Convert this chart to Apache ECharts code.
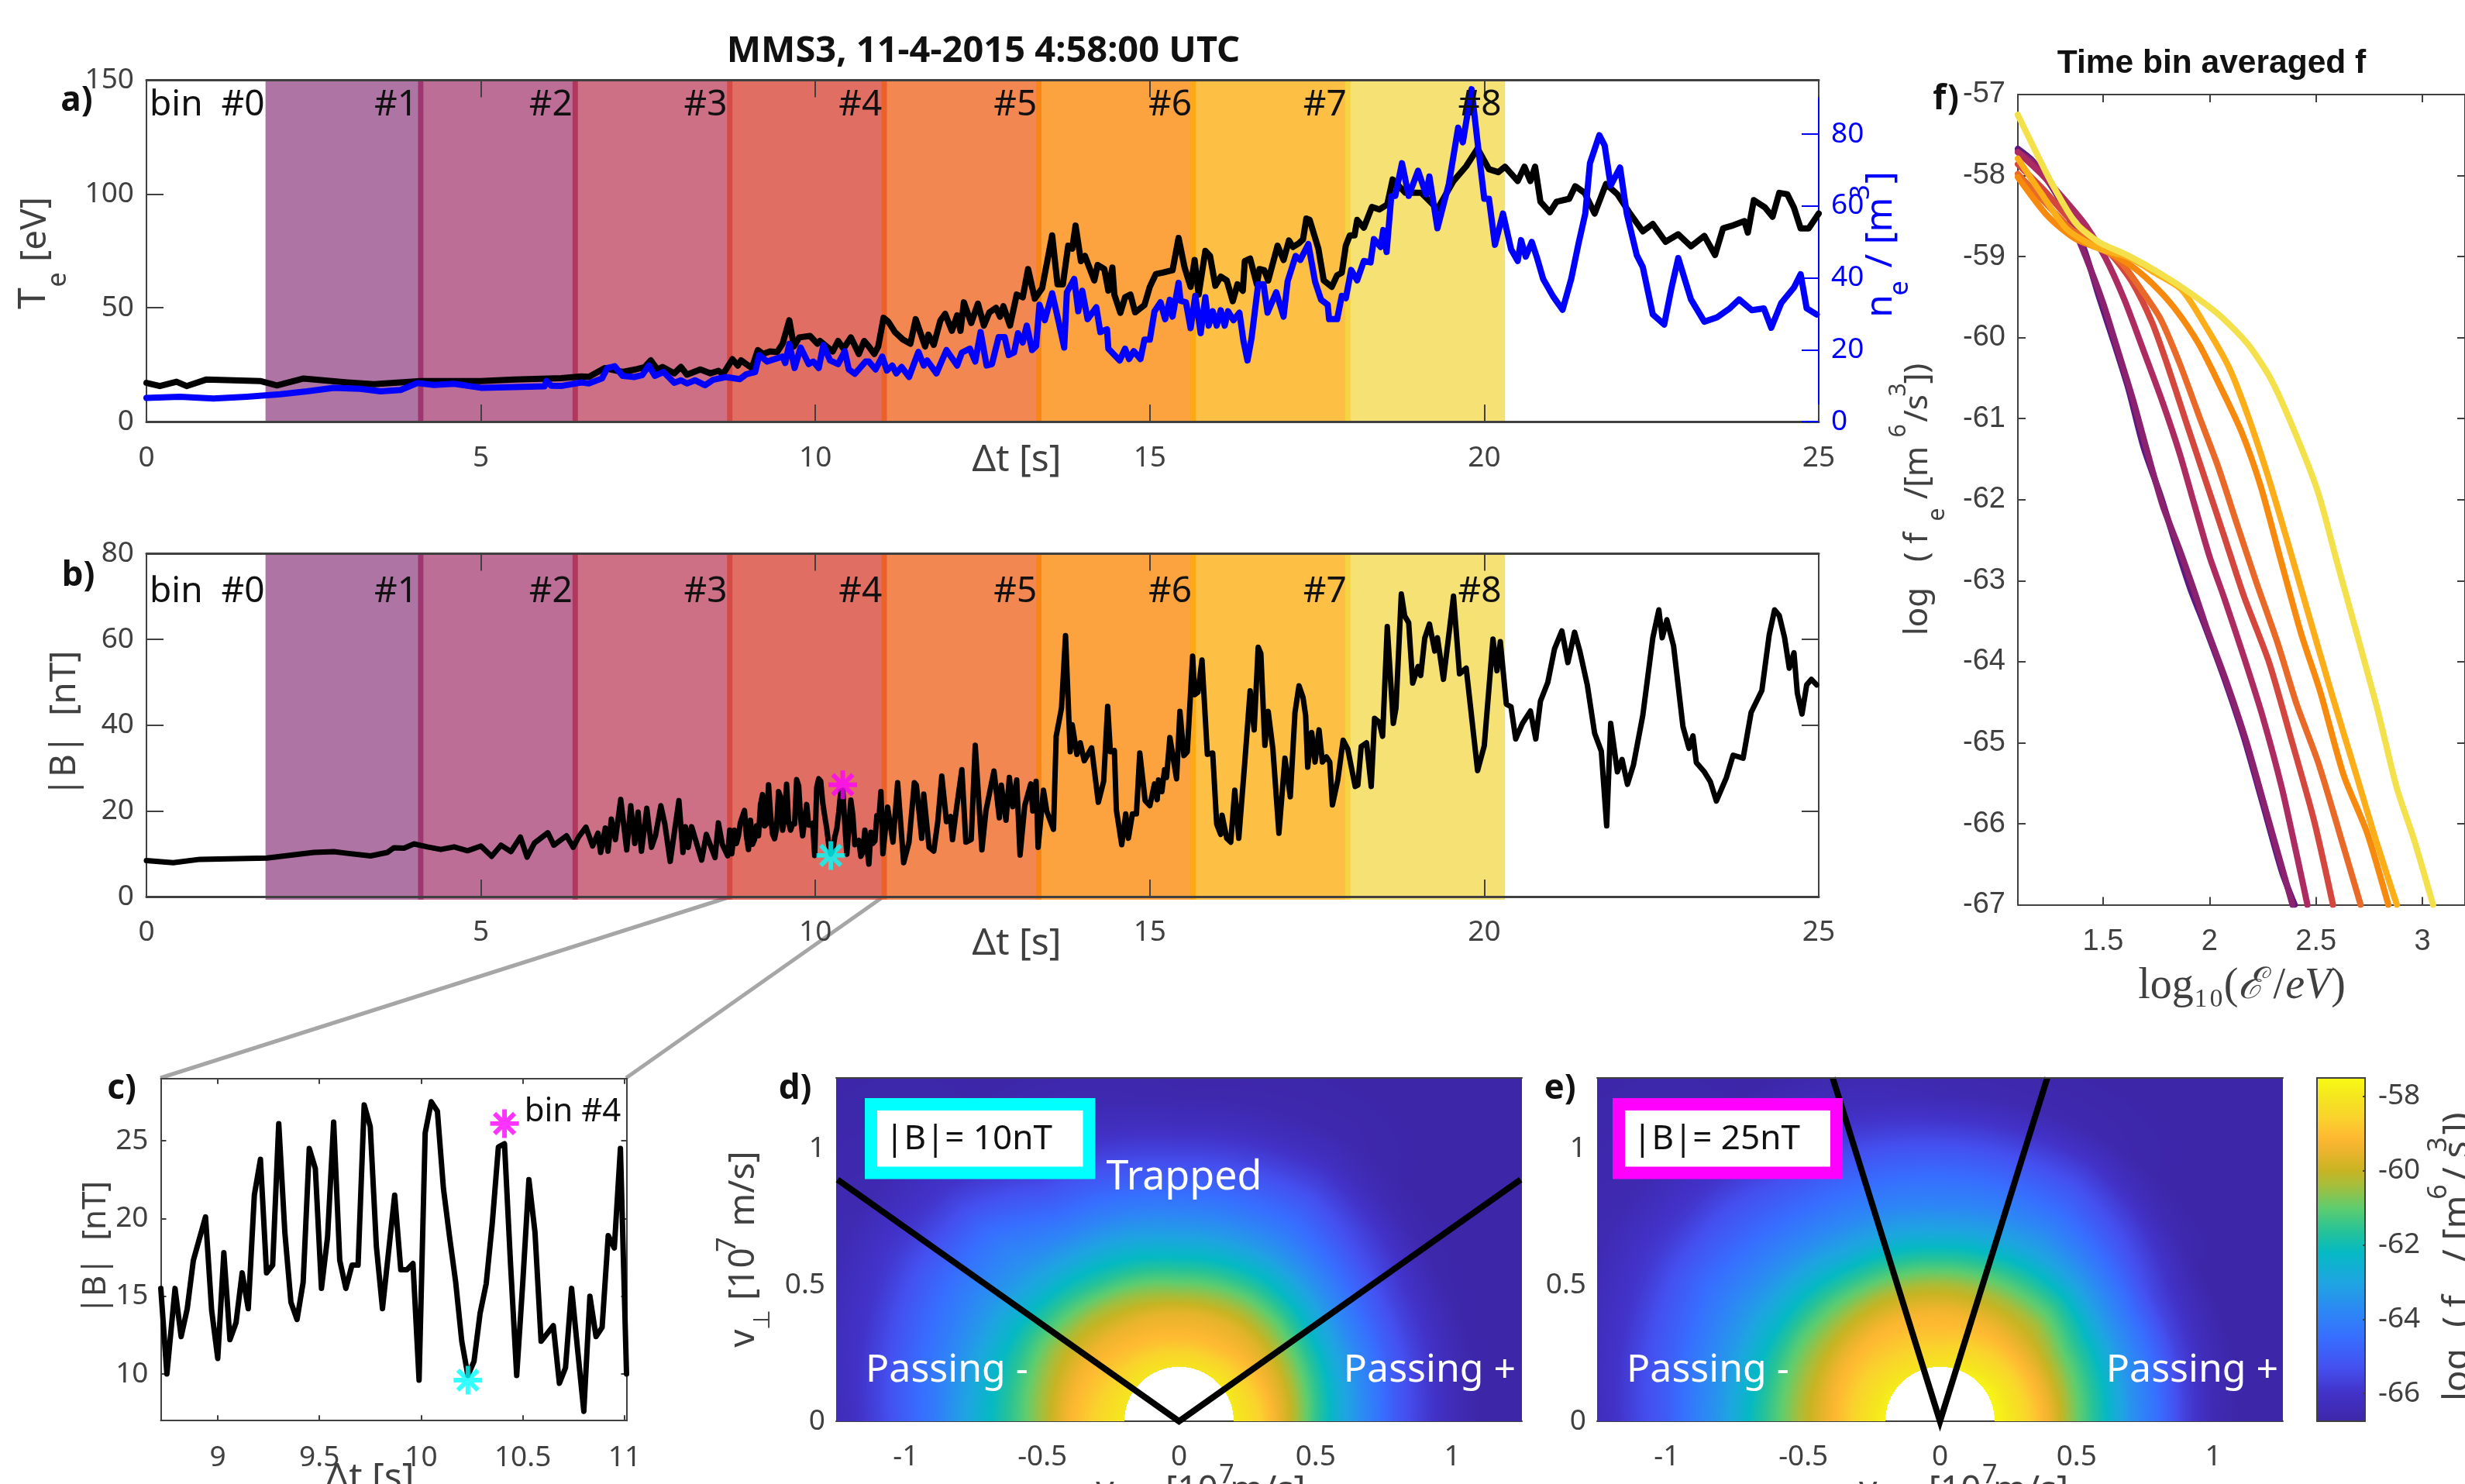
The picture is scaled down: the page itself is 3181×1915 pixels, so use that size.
<!DOCTYPE html>
<html><head><meta charset="utf-8">
<script src="https://cdn.jsdelivr.net/npm/echarts@6/dist/echarts.min.js"></script>
<style>html,body{margin:0;padding:0;background:#fff}#c{width:3181px;height:1915px}</style></head>
<body><div id="c"></div>
<script>
const teSeries=[[0,17],[0.2,15.6],[0.45,17.5],[0.6,15.6],[0.9,18.5],[1.7,17.8],[1.95,15.9],[2.35,18.9],[3.0,17.2],[3.4,16.4],[4.1,17.8],[5,17.8],[5.5,18.5],[6.2,19.1],[6.5,19.8],[6.615,19.7],[6.85,23.5],[7.12,21.8],[7.31,22.9],[7.45,24],[7.54,26.9],[7.64,22.9],[7.715,24],[7.89,21.2],[7.99,24],[8.08,20.6],[8.28,22.9],[8.43,21.2],[8.55,22.3],[8.62,20.9],[8.76,27.4],[8.84,24.6],[8.89,26.9],[9.05,23.5],[9.14,31.4],[9.22,29.7],[9.32,30.8],[9.43,30.6],[9.51,34.2],[9.61,44.5],[9.68,33],[9.76,37],[9.92,37.6],[10.03,34.2],[10.07,35.4],[10.19,32.5],[10.26,30.8],[10.34,35.4],[10.42,32],[10.53,37],[10.65,29.7],[10.73,35.4],[10.8,33],[10.88,29.7],[10.94,33],[11.02,45.6],[11.09,43.9],[11.19,39.3],[11.31,36],[11.42,34.2],[11.5,45],[11.58,38.2],[11.64,33],[11.69,38.2],[11.77,33.7],[11.87,44.5],[11.94,47.3],[12.04,39.9],[12.12,46.7],[12.17,39.9],[12.22,52.4],[12.33,43.3],[12.43,51.8],[12.52,42.2],[12.6,47.9],[12.7,50],[12.76,46.1],[12.81,50.7],[12.91,42.2],[13.01,55.8],[13.1,54.6],[13.18,67],[13.28,54],[13.39,58.6],[13.54,81.8],[13.62,60.3],[13.7,60.3],[13.78,77.3],[13.84,76],[13.89,86.1],[13.97,70.5],[14.03,72.8],[14.17,62],[14.22,68.8],[14.32,67],[14.38,57.5],[14.44,67.7],[14.47,55.8],[14.56,47.8],[14.63,54.6],[14.71,55.8],[14.78,48],[14.92,51.2],[15,59.2],[15.09,64.8],[15.19,65.4],[15.34,66.5],[15.43,80.7],[15.52,67.7],[15.61,59.2],[15.67,71],[15.73,55.8],[15.83,75],[15.9,72.8],[15.98,59.7],[16.06,63.7],[16.15,62],[16.24,52.9],[16.31,60.3],[16.39,57.5],[16.42,70.5],[16.5,71.6],[16.6,60.3],[16.64,67],[16.71,66.5],[16.77,62],[16.91,77.3],[17,71],[17.08,79.6],[17.14,76.7],[17.23,78.4],[17.29,80],[17.34,89.2],[17.39,88.6],[17.52,76],[17.6,62],[17.72,59.2],[17.8,64.3],[17.87,65.4],[17.93,77.3],[17.99,81.8],[18.06,81.8],[18.1,88.6],[18.2,85.2],[18.32,94.3],[18.43,93.2],[18.55,95.4],[18.63,106.4],[18.82,100.5],[19.06,100.5],[19.3,93.4],[19.54,105.7],[19.73,112.2],[19.9,120],[20.07,110.9],[20.21,109.6],[20.31,112],[20.5,105.7],[20.6,112],[20.69,105.7],[20.76,112],[20.84,96.6],[20.98,92],[21.08,96.6],[21.27,97.9],[21.36,103.4],[21.5,100.5],[21.65,91.4],[21.82,104.4],[21.99,99.9],[22.18,91.4],[22.37,83.6],[22.52,86.8],[22.71,79],[22.9,82.3],[23.09,77],[23.29,81.6],[23.45,73.2],[23.57,84.9],[23.72,86.2],[23.89,88.1],[23.94,83],[24.03,97.3],[24.2,94],[24.31,90],[24.41,100.5],[24.53,99.9],[24.63,94],[24.73,84.9],[24.85,84.9],[25,91.4]];
const neSeries=[[0,6.6],[0.5,6.9],[1,6.4],[1.5,6.9],[2,7.6],[2.4,8.4],[2.8,9.4],[3.2,9.1],[3.5,8.4],[3.8,8.8],[4.05,10.7],[4.3,10.2],[4.6,10.5],[5,9.4],[5.5,9.6],[5.95,9.8],[5.98,11.3],[6.05,10],[6.2,9.9],[6.5,10.9],[6.615,10.6],[6.81,12],[6.89,14.9],[7,15.4],[7.12,12.7],[7.29,12.4],[7.41,12.9],[7.51,15.6],[7.6,12.7],[7.73,13.8],[7.89,10.8],[7.99,11.5],[8.08,10.6],[8.2,11.5],[8.35,10.1],[8.47,11.6],[8.66,12.4],[8.87,11.8],[8.97,13.2],[9.1,13.8],[9.16,18.5],[9.28,16.7],[9.51,18.1],[9.55,16.3],[9.61,21.6],[9.69,14.9],[9.78,20.6],[9.9,16],[9.97,16.7],[10.05,14.9],[10.12,21.3],[10.22,17],[10.34,16],[10.44,19.6],[10.5,14.5],[10.59,13.3],[10.75,16.7],[10.8,16.7],[10.9,14.5],[11,18.1],[11.07,14.2],[11.15,15.6],[11.21,13.4],[11.29,15.2],[11.4,12.4],[11.54,19.4],[11.62,15.6],[11.67,17],[11.81,13.4],[11.96,19.9],[12.12,15.6],[12.19,19.2],[12.31,20.3],[12.39,16.7],[12.47,24.9],[12.56,15.6],[12.64,16],[12.74,23.5],[12.83,23.5],[12.89,18.5],[12.97,19.2],[13.03,24.6],[13.1,22],[13.16,26.7],[13.24,19.9],[13.3,21],[13.35,32.5],[13.43,28.2],[13.54,35.7],[13.64,27.5],[13.72,20.6],[13.76,36],[13.87,39.7],[13.93,30.7],[13.99,36.4],[14.07,28.5],[14.2,31.8],[14.26,24.9],[14.36,25.7],[14.38,20.3],[14.55,17],[14.63,20.3],[14.69,17.4],[14.76,19.6],[14.86,17.4],[14.92,22.8],[15,22.8],[15.07,30.7],[15.16,33.2],[15.23,28.5],[15.3,33.9],[15.34,29.2],[15.43,38.6],[15.46,33.6],[15.54,33.2],[15.61,26],[15.68,35],[15.76,24.6],[15.83,34.6],[15.88,26.7],[15.94,30.7],[16,26.7],[16.06,31],[16.12,26.7],[16.17,30.7],[16.25,28.2],[16.34,30.3],[16.4,22.4],[16.46,17],[16.52,23.1],[16.62,38.2],[16.7,38.2],[16.76,30.3],[16.89,36],[17,29.2],[17.06,39],[17.18,46.1],[17.25,45],[17.37,49.4],[17.47,39],[17.56,33.9],[17.66,32.5],[17.68,28.5],[17.8,28.5],[17.87,35],[17.93,34.3],[18.01,42.2],[18.1,39.3],[18.2,44.7],[18.3,44.3],[18.35,50.8],[18.45,48.6],[18.49,53.3],[18.54,47.2],[18.61,62.7],[18.67,62.8],[18.77,71.9],[18.87,62.8],[19.01,69.8],[19.13,63.2],[19.18,68.2],[19.3,53.8],[19.47,66.1],[19.61,81.8],[19.68,77.7],[19.81,92.5],[19.9,77.7],[20,62],[20.07,62],[20.16,49.2],[20.28,57.9],[20.4,48],[20.5,44.7],[20.55,50.5],[20.62,45.9],[20.71,50],[20.79,45.5],[20.88,39.7],[21.03,34.8],[21.17,31.1],[21.3,39.7],[21.41,49.6],[21.51,57.9],[21.58,71.9],[21.72,79.7],[21.8,76.8],[21.89,65.7],[22.03,70.7],[22.13,57.9],[22.28,46.3],[22.37,43],[22.52,29.8],[22.69,27],[22.8,37.3],[22.9,45.5],[23.09,34],[23.29,27.8],[23.48,29],[23.67,31.5],[23.81,34],[24,31],[24.18,31.5],[24.29,26.1],[24.44,33],[24.63,37.3],[24.73,41],[24.82,31.5],[24.97,29.8]];
const bBefore=[[0,8.4],[0.4,7.9],[0.8,8.7],[1.8,9],[2.5,10.3],[2.8,10.5],[3,10.1],[3.35,9.5],[3.6,10.3],[3.7,11.4],[3.85,11.3],[4,12.3],[4.2,11.6],[4.4,11],[4.6,11.6],[4.8,10.7],[5,11.8],[5.16,9.4],[5.3,12],[5.45,10.5],[5.59,13.9],[5.69,9.2],[5.8,12.5],[6,14.9],[6.09,12],[6.28,14.2],[6.38,11.5],[6.46,13.9],[6.57,16.2],[6.67,11.8],[6.75,14.8],[6.79,10.3],[6.86,16],[6.9,10.6],[6.95,18.1],[7.01,13.3],[7.09,22.7],[7.18,10.9],[7.24,21.2],[7.3,12.4],[7.35,19.7],[7.4,10.6],[7.48,20.6],[7.55,11.5],[7.61,14.2],[7.69,21.2],[7.75,16.9],[7.83,8.2],[7.96,22.4],[8.02,10.3],[8.06,16.3],[8.1,11.5],[8.15,16.3],[8.3,8.5],[8.37,14.5],[8.5,9.1],[8.55,17.2],[8.61,12.1],[8.69,9.5]];
const bBin4=[[8.72,15.5],[8.75,10],[8.79,15.5],[8.82,12.4],[8.85,14.2],[8.88,17.3],[8.94,20.1],[8.97,14.1],[9,11],[9.03,17.8],[9.06,12.2],[9.09,13.3],[9.12,16.5],[9.15,14.2],[9.18,21.5],[9.21,23.8],[9.24,16.5],[9.27,17],[9.3,26.1],[9.33,19.1],[9.36,14.6],[9.39,13.5],[9.42,15.9],[9.45,24.5],[9.48,23.2],[9.51,15.5],[9.54,18.8],[9.57,26.2],[9.6,17.3],[9.63,15.5],[9.66,17],[9.69,17],[9.72,27.3],[9.75,25.9],[9.78,18.2],[9.81,14.2],[9.87,21.5],[9.9,16.7],[9.93,16.7],[9.96,17.1],[9.99,9.6],[10.02,25.5],[10.05,27.5],[10.08,26.9],[10.11,21.9],[10.14,18.8],[10.17,15.9],[10.2,12.1],[10.23,9.9],[10.26,10.8],[10.29,13.9],[10.32,15.8],[10.35,19.7],[10.38,24.6],[10.41,24.8],[10.44,17],[10.47,9.9],[10.5,15.9],[10.53,22.5],[10.56,19.1],[10.59,12.1],[10.62,12.6],[10.65,13.1],[10.68,9.4],[10.71,10.4],[10.74,15.5],[10.77,11.5],[10.8,7.6],[10.83,15],[10.86,12.4],[10.89,13],[10.92,18.9],[10.95,18.1],[10.98,24.5],[11.01,10]];
const bAfter=[[11.08,20.9],[11.16,12.7],[11.23,26.6],[11.32,7.9],[11.4,12.7],[11.48,26.6],[11.51,26],[11.59,13.6],[11.62,23.9],[11.7,11.5],[11.77,10.6],[11.83,17.5],[11.89,28.1],[11.96,17.5],[12.02,18.7],[12.05,13.3],[12.11,20.6],[12.19,29.6],[12.25,12.7],[12.33,13.3],[12.39,35.3],[12.49,10.9],[12.55,20],[12.67,29.3],[12.75,18.4],[12.78,26],[12.85,17.8],[12.9,27.8],[12.95,21],[13.01,27.2],[13.06,9.7],[13.13,21.2],[13.22,26.3],[13.25,20],[13.3,26.9],[13.33,11.5],[13.41,24.8],[13.46,19.9],[13.56,15.7],[13.6,37.4],[13.68,44],[13.74,60.9],[13.81,33.8],[13.84,40.1],[13.91,33.2],[13.96,35.9],[14.02,31.7],[14.13,34.7],[14.23,22],[14.31,26.9],[14.37,44.4],[14.41,33.8],[14.47,34.1],[14.5,20.2],[14.58,12.1],[14.64,19.3],[14.68,13.6],[14.74,19.3],[14.8,19.3],[14.85,33.5],[14.93,22.4],[15,21.2],[15.07,26.3],[15.11,22.6],[15.13,27.2],[15.18,24.5],[15.22,29.6],[15.25,27.8],[15.3,37.1],[15.4,27.5],[15.45,43.2],[15.51,32.9],[15.56,33.8],[15.64,56.1],[15.67,47.1],[15.72,47.7],[15.78,55.2],[15.86,33.2],[15.94,33.5],[16,16.9],[16.06,14.5],[16.08,19],[16.15,13.6],[16.21,12.7],[16.27,24.8],[16.33,13.6],[16.42,31.4],[16.5,48],[16.56,38.9],[16.62,58.2],[16.66,56.7],[16.72,35.3],[16.77,43.2],[16.84,34.4],[16.93,14.8],[17.02,32.3],[17.1,23.3],[17.17,42.9],[17.23,49.2],[17.29,46.5],[17.33,42.2],[17.36,30.2],[17.42,38.3],[17.47,31.4],[17.53,38.9],[17.58,31.4],[17.64,32.6],[17.69,31.4],[17.73,21.4],[17.81,27.2],[17.89,36.5],[17.96,34.4],[18.07,25.7],[18.11,26],[18.16,35],[18.24,35.9],[18.31,25.7],[18.36,41.6],[18.43,40.7],[18.48,37.4],[18.55,63],[18.64,40.4],[18.68,44],[18.76,70.6],[18.81,65.5],[18.87,63.9],[18.93,49.8],[19.01,53.7],[19.05,51.6],[19.11,60.3],[19.18,63.6],[19.26,57.3],[19.3,60.4],[19.39,50.7],[19.54,70.1],[19.63,52],[19.73,53.3],[19.9,29.4],[20,35.2],[20.13,60.1],[20.19,52.7],[20.24,59.5],[20.33,44.9],[20.4,44.3],[20.47,36.8],[20.57,40.4],[20.69,43.3],[20.77,36.8],[20.84,45.6],[20.95,50],[21.05,57.8],[21.16,62],[21.25,54.6],[21.35,61.7],[21.43,57.2],[21.54,49.4],[21.65,38.1],[21.75,33.9],[21.83,16.5],[21.89,40.4],[21.99,29.1],[22.06,32],[22.14,26.2],[22.23,30.7],[22.37,42.3],[22.52,60.4],[22.61,66.9],[22.66,60.4],[22.73,64.6],[22.83,58.5],[22.97,39.7],[23.06,34.6],[23.12,37.5],[23.17,31.3],[23.29,29.1],[23.38,26.8],[23.47,22.3],[23.62,27.8],[23.72,33],[23.87,32.3],[23.99,43],[24.15,48.1],[24.26,61.1],[24.34,66.9],[24.41,65.6],[24.49,60.4],[24.56,53.3],[24.63,56.9],[24.68,47.5],[24.75,42.6],[24.82,49.4],[24.89,50.7],[24.97,49.4]];
const starHigh=[[10.41,26.1]];
const starLow=[[10.23,9.6]];
// ---- time bins ----
const binStart=[1.78,4.06,6.37,8.68,10.99,13.3,15.61,17.92];
const binEnd=[4.14,6.45,8.76,11.07,13.38,15.69,18.0,20.31];
const binColors=['rgba(120,23,103,.6)','rgba(145,13,80,.6)','rgba(172,17,53,.6)','rgba(214,62,46,.75)','rgba(238,95,24,.75)','rgba(251,132,0,.75)','rgba(254,171,6,.75)','rgba(243,216,70,.75)'];
const binNames=['#1','#2','#3','#4','#5','#6','#7','#8'];
// ---- panel f : [log10(E/eV), log f] ----
const f0=[[1.10,-57.67],[1.17,-57.82],[1.26,-58.14],[1.33,-58.46],[1.41,-58.9],[1.48,-59.49],[1.55,-60.05],[1.62,-60.64],[1.69,-61.35],[1.77,-61.95],[1.84,-62.54],[1.91,-63.1],[1.98,-63.57],[2.07,-64.21],[2.16,-64.92],[2.25,-65.75],[2.34,-66.59],[2.40,-67]];
const f1=[[1.10,-57.71],[1.19,-57.88],[1.28,-58.22],[1.35,-58.58],[1.42,-59.01],[1.50,-59.57],[1.57,-60.16],[1.64,-60.76],[1.71,-61.43],[1.78,-62.07],[1.86,-62.62],[1.93,-63.14],[1.99,-63.61],[2.08,-64.25],[2.17,-64.96],[2.26,-65.79],[2.35,-66.63],[2.39,-67]];
const f2=[[1.10,-57.71],[1.21,-57.98],[1.32,-58.30],[1.42,-58.62],[1.51,-59.01],[1.60,-59.53],[1.69,-60.16],[1.78,-60.80],[1.86,-61.43],[1.93,-62.07],[2.0,-62.70],[2.07,-63.22],[2.16,-63.93],[2.25,-64.68],[2.34,-65.56],[2.42,-66.51],[2.46,-67]];
const f3=[[1.10,-57.86],[1.23,-58.2],[1.33,-58.5],[1.44,-58.74],[1.55,-59.01],[1.64,-59.33],[1.73,-59.81],[1.80,-60.32],[1.89,-61.04],[1.98,-61.75],[2.07,-62.46],[2.16,-63.18],[2.28,-64.01],[2.38,-64.92],[2.49,-65.95],[2.58,-67]];
const f4=[[1.10,-57.98],[1.23,-58.34],[1.35,-58.66],[1.48,-58.86],[1.59,-59.09],[1.68,-59.41],[1.77,-59.77],[1.86,-60.32],[1.95,-60.96],[2.04,-61.59],[2.13,-62.31],[2.22,-63.02],[2.32,-63.77],[2.41,-64.53],[2.51,-65.24],[2.61,-66.11],[2.71,-67]];
const f5=[[1.10,-58.02],[1.24,-58.5],[1.37,-58.78],[1.51,-58.93],[1.62,-59.09],[1.73,-59.33],[1.84,-59.65],[1.95,-60.08],[2.05,-60.6],[2.15,-61.16],[2.24,-61.83],[2.33,-62.7],[2.43,-63.65],[2.52,-64.37],[2.63,-65.4],[2.74,-66.11],[2.84,-67]];
const f6=[[1.10,-57.79],[1.21,-58.22],[1.33,-58.66],[1.48,-58.9],[1.62,-59.01],[1.75,-59.21],[1.87,-59.41],[1.98,-59.85],[2.09,-60.36],[2.18,-60.96],[2.27,-61.67],[2.36,-62.46],[2.47,-63.46],[2.58,-64.45],[2.69,-65.4],[2.78,-66.19],[2.88,-67]];
const f7=[[1.10,-57.25],[1.17,-57.63],[1.26,-58.1],[1.37,-58.58],[1.48,-58.82],[1.62,-58.99],[1.77,-59.21],[1.91,-59.45],[2.05,-59.73],[2.18,-60.08],[2.29,-60.52],[2.40,-61.16],[2.51,-61.91],[2.60,-62.78],[2.70,-63.73],[2.79,-64.6],[2.88,-65.56],[2.96,-66.19],[3.05,-67]];
const fCurves=[f0,f1,f2,f3,f4,f5,f6,f7];
const fColors=['#5c1a80','#8a2270','#ac2c62','#d3473f','#e96a28','#f78a0c','#fbae17','#f3e04a'];
// ---- panels d, e : log f read by colour at (speed, pitch angle) ----
const speedKnots=[0.2,0.3,0.4,0.5,0.6,0.7,0.8,0.9,1.0,1.1,1.2,1.4,1.8];
const angleKnots=[0,30,45,60,90,120,135,150,180];
const fD=[
[-57.9,-58.6,-59.9,-61.5,-62.9,-64.0,-65.1,-65.8,-66.4,-66.75,-66.75,-66.75,-66.75],
[-57.9,-58.8,-59.8,-61.2,-62.6,-63.8,-64.8,-65.6,-66.2,-66.7,-66.75,-66.75,-66.75],
[-57.9,-58.9,-59.7,-60.9,-62.3,-63.5,-64.5,-65.3,-65.9,-66.5,-66.75,-66.75,-66.75],
[-58.0,-59.0,-59.6,-60.8,-62.1,-63.3,-64.2,-64.9,-65.6,-66.2,-66.6,-66.75,-66.75],
[-58.1,-59.0,-59.6,-60.9,-62.2,-63.3,-64.2,-65.0,-65.7,-66.3,-66.65,-66.75,-66.75],
[-58.0,-58.9,-59.5,-60.5,-61.8,-62.9,-63.9,-64.7,-65.4,-66.0,-66.4,-66.75,-66.75],
[-58.0,-58.8,-59.4,-60.3,-61.5,-62.7,-63.5,-64.0,-64.6,-65.3,-65.9,-66.6,-66.75],
[-58.0,-58.7,-59.3,-60.2,-61.3,-62.4,-63.3,-64.0,-64.6,-65.2,-65.8,-66.5,-66.75],
[-57.9,-58.5,-59.2,-60.4,-61.4,-62.3,-63.2,-64.2,-64.9,-65.6,-66.2,-66.75,-66.75]];
const fE=[
[-57.6,-58.3,-59.4,-60.9,-62.1,-63.5,-64.5,-65.7,-66.5,-66.75,-66.75,-66.75,-66.75],
[-57.6,-58.4,-59.5,-60.8,-62.0,-63.3,-64.4,-65.5,-66.2,-66.75,-66.75,-66.75,-66.75],
[-57.7,-58.5,-59.5,-60.4,-61.6,-63.0,-64.1,-65.0,-65.7,-66.4,-66.75,-66.75,-66.75],
[-57.8,-58.6,-59.4,-60.4,-61.6,-62.9,-63.8,-64.6,-65.3,-66.0,-66.6,-66.75,-66.75],
[-58.0,-58.8,-59.3,-60.3,-61.7,-63.0,-63.9,-64.5,-65.2,-65.9,-66.5,-66.75,-66.75],
[-58.0,-58.7,-59.2,-60.2,-61.5,-62.8,-63.7,-64.4,-65.0,-65.6,-66.1,-66.75,-66.75],
[-57.9,-58.6,-59.2,-60.2,-61.3,-62.5,-63.5,-64.2,-64.8,-65.3,-65.9,-66.6,-66.75],
[-57.8,-58.5,-59.2,-60.2,-61.2,-62.4,-63.3,-64.0,-64.6,-65.2,-65.8,-66.5,-66.75],
[-57.7,-58.4,-59.3,-60.2,-61.2,-62.2,-63.3,-64.1,-65.0,-65.5,-66.1,-66.75,-66.75]];
const coneD=[[-1.25,0.888],[0,0],[1.25,0.888]];
const coneE=[[-0.393,1.263],[0,0],[0.393,1.263]];
// ---- colour bar ----
const cbValues=[-66.75,-66,-65.3,-64.5,-63.8,-63,-62.2,-61.6,-61,-60.4,-60,-59.4,-59.1,-58.6,-58,-57.5];
const cbColors=[[61,38,168],[66,50,200],[68,80,240],[55,110,255],[45,135,245],[30,165,225],[5,185,195],[40,195,150],[95,205,110],[165,190,60],[200,180,35],[240,180,45],[254,185,50],[250,210,45],[245,230,30],[249,250,20]];
// ---- tick labels ----
const ticksNe=[0,20,40,60,80], ticksC_x=[9,9.5,10,10.5,11], ticksC_y=[10,15,20,25];
const ticksV=[-1,-0.5,0,0.5,1], ticksVp=[0,0.5,1], ticksCb=[-66,-64,-62,-60,-58], ticksFx=[1.5,2,2.5,3];

const MAIN='"Noto Sans"', ARIAL='"Liberation Sans"', GREY='#404040';
function rgbAt(v){
  if(v<=cbValues[0])return cbColors[0];
  for(let i=1;i<cbValues.length;i++){
    if(v<=cbValues[i]){const k=(v-cbValues[i-1])/(cbValues[i]-cbValues[i-1]);
      return cbColors[i].map((c,j)=>cbColors[i-1][j]+k*(c-cbColors[i-1][j]));}
  }
  return cbColors[cbColors.length-1];
}
function locate(a,v){let i=0;while(i<a.length-2&&v>a[i+1])i++;return [i,Math.max(0,Math.min(1,(v-a[i])/(a[i+1]-a[i])))];}
function lookup(tab,r,th){const [i,u]=locate(angleKnots,th),[j,w]=locate(speedKnots,r);
  return (1-u)*((1-w)*tab[i][j]+w*tab[i][j+1])+u*((1-w)*tab[i+1][j]+w*tab[i+1][j+1]);}
function shade(tab,ext,W,H){ // paints the read table on the panel as the original's interpolated shading
  const cv=document.createElement('canvas');cv.width=W;cv.height=H;const g=cv.getContext('2d');const im=g.createImageData(W,H);
  for(let py=0;py<H;py++)for(let px=0;px<W;px++){
    const x=ext[0]+(px+.5)/W*(ext[2]-ext[0]),y=ext[3]-(py+.5)/H*(ext[3]-ext[1]);
    const r=Math.hypot(x,y),k=(py*W+px)*4;
    if(r<0.2){im.data[k+3]=0;continue;}
    const c=rgbAt(lookup(tab,r,Math.atan2(y,x)*180/Math.PI));
    im.data[k]=c[0];im.data[k+1]=c[1];im.data[k+2]=c[2];im.data[k+3]=255;
  }
  g.putImageData(im,0,0);return cv;
}
const grids=[
 {left:189,top:103.5,width:2158,height:440.5},
 {left:189,top:714.6,width:2158,height:442.4},
 {left:207.5,top:1391.7,width:601,height:441.5},
 {left:1079,top:1390.6,width:885,height:443.4},
 {left:2061,top:1390.6,width:885,height:443.4},
 {left:2990,top:1391,width:62,height:443},
 {left:2604,top:122,width:580,height:1045.6}];
const xAxis=[],yAxis=[],series=[];
const LS=(c,w)=>({color:c,width:w});
function ax(list,o){
  const a={type:'value',gridIndex:o.g,position:o.pos,min:o.min,max:o.max,z:o.z==null?2:o.z,splitLine:{show:false},animation:false,
   axisLine:{show:o.line!==false,onZero:false,lineStyle:LS(o.color||GREY,o.lw||2)},
   axisTick:{show:!!o.tick,inside:true,length:o.tick||0,lineStyle:LS(o.color||GREY,2)},
   axisLabel:{show:!!o.label,margin:o.margin||16,color:o.color||GREY,fontFamily:o.font||MAIN,fontSize:o.size||37}};
  if(list===yAxis)a.axisLabel.padding=[o.font===ARIAL?13:8,0,0,0];
  if(o.interval)a.interval=o.interval;
  if(o.custom){a.axisTick.customValues=o.custom;a.axisLabel.customValues=o.custom;}
  list.push(a);return list.length-1;
}
// panel a
const xa=ax(xAxis,{g:0,pos:'bottom',min:0,max:25,interval:5,tick:22,label:true,margin:29,lw:3});
ax(xAxis,{g:0,pos:'top',min:0,max:25,interval:5,tick:22,lw:3});
const yaT=ax(yAxis,{g:0,pos:'left',min:0,max:150,interval:50,tick:22,label:true});
const yaN=ax(yAxis,{g:0,pos:'right',min:0,max:95,custom:ticksNe,tick:22,label:true,color:'#0000ff'});
// panel b
const xb=ax(xAxis,{g:1,pos:'bottom',min:0,max:25,interval:5,tick:22,label:true,margin:28,lw:3});
ax(xAxis,{g:1,pos:'top',min:0,max:25,interval:5,tick:22,lw:3});
const yb=ax(yAxis,{g:1,pos:'left',min:0,max:80,interval:20,tick:22,label:true});
ax(yAxis,{g:1,pos:'right',min:0,max:80,interval:20,tick:22});
// panel c
const xc=ax(xAxis,{g:2,pos:'bottom',min:8.72,max:11.01,custom:ticksC_x,tick:7,label:true,margin:30});
ax(xAxis,{g:2,pos:'top',min:8.72,max:11.01,custom:ticksC_x,tick:7});
const yc=ax(yAxis,{g:2,pos:'left',min:7,max:29,custom:ticksC_y,tick:7,label:true});
ax(yAxis,{g:2,pos:'right',min:7,max:29,custom:ticksC_y,tick:7});
// panels d, e (image covers the axis lines, as in the figure)
const heatExt=[-1.255,0,1.255,1.263];
const pv={};
[[3,'d'],[4,'e']].forEach(([g,n])=>{
  pv[n]={x:ax(xAxis,{g,pos:'bottom',min:heatExt[0],max:heatExt[2],custom:ticksV,label:true,margin:28,z:0}),
         y:ax(yAxis,{g,pos:'left',min:0,max:heatExt[3],custom:ticksVp,label:true,margin:14,line:false,z:0})};
  ax(xAxis,{g,pos:'top',min:heatExt[0],max:heatExt[2],custom:ticksV,z:5});
});
// colour bar
const xcb=ax(xAxis,{g:5,pos:'bottom',min:0,max:1,custom:[],z:5});
ax(xAxis,{g:5,pos:'top',min:0,max:1,custom:[],z:5});
const ycb=ax(yAxis,{g:5,pos:'right',min:-66.75,max:-57.5,custom:ticksCb,tick:3,label:true,margin:17,z:5});
ax(yAxis,{g:5,pos:'left',min:-66.75,max:-57.5,custom:[],z:5});
// panel f
const xf=ax(xAxis,{g:6,pos:'bottom',min:1.1,max:3.2,custom:ticksFx,tick:10,label:true,margin:29,font:ARIAL,size:38});
ax(xAxis,{g:6,pos:'top',min:1.1,max:3.2,custom:ticksFx,tick:10});
const yf=ax(yAxis,{g:6,pos:'left',min:-67,max:-57,interval:1,tick:10,label:true,margin:16,font:ARIAL,size:38});
ax(yAxis,{g:6,pos:'right',min:-67,max:-57,interval:1,tick:10});

const bandData=binStart.map((s,i)=>[s,binEnd[i],i]);
function bands(xi,yi,padTop,padBot){
  series.push({type:'custom',xAxisIndex:xi,yAxisIndex:yi,z:1,silent:true,animation:false,data:bandData,encode:{x:[0,1]},
   renderItem(p,api){
     const cs=p.coordSys,a=api.coord([api.value(0),0])[0],b=api.coord([api.value(1),0])[0];
     return {type:'rect',shape:{x:a,y:cs.y-padTop,width:b-a,height:cs.height+padTop+padBot},style:{fill:binColors[api.value(2)]}};
   }});
}
function line(xi,yi,data,color,w,extra){
  series.push(Object.assign({type:'line',xAxisIndex:xi,yAxisIndex:yi,data,symbol:'none',z:3,animation:false,silent:true,
    lineStyle:{color,width:w,join:'round',cap:'round'}},extra||{}));
}
const STAR='path://M42 0L58 0L58 100L42 100ZM0 42L100 42L100 58L0 58ZM9.3 20.7L20.7 9.3L90.7 79.3L79.3 90.7ZM79.3 9.3L90.7 20.7L20.7 90.7L9.3 79.3Z';
function star(xi,yi,data,color){
  series.push({type:'scatter',xAxisIndex:xi,yAxisIndex:yi,data,symbol:STAR,symbolSize:37,z:4,animation:false,silent:true,itemStyle:{color}});
}
bands(xa,yaT,0,0);
line(xa,yaT,teSeries,'#000',8);
line(xa,yaN,neSeries,'#0000ff',8);
bands(xb,yb,1,4);
const bSeries=[...bBefore,...bBin4,...bAfter];
line(xb,yb,bSeries,'#000',7);
star(xb,yb,starHigh,'#ff00ff');star(xb,yb,starLow,'#00ffff');
line(xc,yc,bBin4,'#000',7);
star(xc,yc,starHigh,'#ff00ff');star(xc,yc,starLow,'#00ffff');
function heat(n,tab){
  series.push({type:'custom',xAxisIndex:pv[n].x,yAxisIndex:pv[n].y,z:2,silent:true,animation:false,clip:true,data:[heatExt],encode:{x:[0,2],y:[1,3]},
   renderItem(p,api){
     const a=api.coord([api.value(0),api.value(3)]),b=api.coord([api.value(2),api.value(1)]);
     const w=Math.round(b[0]-a[0]),h=Math.round(b[1]-a[1]);
     return {type:'image',style:{image:shade(tab,heatExt,w,h),x:a[0],y:a[1],width:b[0]-a[0],height:b[1]-a[1]}};
   }});
}
heat('d',fD);heat('e',fE);
function cone(n,d){series.push({type:'line',xAxisIndex:pv[n].x,yAxisIndex:pv[n].y,data:d,symbol:'none',z:4,clip:false,animation:false,silent:true,lineStyle:{color:'#000',width:8,join:'miter',cap:'butt'}});}
cone('d',coneD);cone('e',coneE);
series.push({type:'custom',xAxisIndex:xcb,yAxisIndex:ycb,z:1,silent:true,animation:false,data:[[0,-66.75,1,-57.5]],encode:{x:[0,2],y:[1,3]},
  renderItem(p,api){
    const a=api.coord([api.value(0),api.value(3)]),b=api.coord([api.value(2),api.value(1)]);
    const span=cbValues[cbValues.length-1]-cbValues[0];
    const stops=cbValues.map((v,i)=>({offset:(cbValues[cbValues.length-1]-v)/span,color:'rgb('+cbColors[i].join(',')+')'})).reverse();
    return {type:'rect',shape:{x:a[0],y:a[1],width:b[0]-a[0],height:b[1]-a[1]},style:{fill:new echarts.graphic.LinearGradient(0,0,0,1,stops)}};
  }});
fCurves.forEach((d,i)=>line(xf,yf,d,fColors[i],8,{smooth:0.25}));

// ---- text and annotation ----
function T(x,y,text,o){o=o||{};return {type:'text',x,y,rotation:o.rot?Math.PI/2:0,z:100,silent:true,
  style:{text,fontFamily:o.font||MAIN,fontSize:o.size||46,fontWeight:o.bold?'bold':'normal',fill:o.color||'#111',align:o.align||'center',verticalAlign:'middle',rich:o.rich}};}
const g=[];
g.push({type:'line',z:0,silent:true,shape:{x1:943,y1:1157,x2:207,y2:1391},style:{stroke:'#a6a6a6',lineWidth:5}});
g.push({type:'line',z:0,silent:true,shape:{x1:1140,y1:1157,x2:808,y2:1391},style:{stroke:'#a6a6a6',lineWidth:5}});
g.push(T(1269,67,'MMS3, 11-4-2015 4:58:00 UTC',{bold:true,size:47}));
g.push(T(2854,82,'Time bin averaged f',{bold:true,size:42.5,font:ARIAL}));
[['a)',99,130],['b)',101,743],['c)',157,1405],['d)',1026,1405],['e)',2013,1405],['f)',2511,128]].forEach(l=>g.push(T(l[1],l[2],l[0],{bold:true,size:44})));
[136,764].forEach(y=>{
  g.push(T(341.6,y,'bin  #0',{align:'right'}));
  binNames.forEach((s,i)=>g.push(T(539+199.8*i,y,s,{align:'right'})));
});
g.push(T(1312,594,'\u0394t [s]',{size:48,color:GREY}),T(1312,1218,'\u0394t [s]',{size:48,color:GREY}),T(477,1908,'\u0394t [s]',{size:48,color:GREY}));
const rot=(x,y,t,s,c)=>T(x,y,t,{rot:true,size:s,color:c||GREY});
// a y labels
g.push(rot(44,385,'T',50),rot(75,361,'e',34),rot(46,296,'[eV]',46));
g.push(rot(2427,395,'n',48,'#0000ff'),rot(2452,372,'e',34,'#0000ff'),rot(2427,300,'/ [m',48,'#0000ff'),rot(2402,248,'3',34,'#0000ff'),rot(2427,229,']',48,'#0000ff'));
g.push(rot(84,934,'|B|  [nT]',46));
g.push(rot(124,1610,'|B|  [nT]',42));
// f y label
[[2475,789,'log',42],[2475,706,'( f',42],[2500,664,'e',30],[2475,610,'/[m',42],[2450,556,'6',30],[2475,527,'/s',42],[2450,503,'3',30],[2475,482,'])',42]].forEach(a=>g.push(rot(a[0],a[1],a[2],a[3])));
// colour-bar label
[[3172,1774,'log',46],[3172,1692,'( f',46],[3172,1586,'/ [m',46],[3147,1538,'6',34],[3172,1498,'/ s',46],[3147,1477,'3',34],[3172,1450,'])',46]].forEach(a=>g.push(rot(a[0],a[1],a[2],a[3])));
// d y label
[[960,1727,'v',46],[984,1703,'\u22a5',30],[960,1644,'[10',46],[939,1606,'7',34],[960,1534,'m/s]',46]].forEach(a=>g.push(rot(a[0],a[1],a[2],a[3])));
// v-par labels
[[0,0],[984.6,0]].forEach(o=>{
  g.push(T(1426+o[0],1924,'v',{size:46,color:GREY}),T(1538+o[0],1924,'[10',{size:46,color:GREY}),T(1583+o[0],1904,'7',{size:34,color:GREY}),T(1636+o[0],1924,'m/s]',{size:46,color:GREY}));
});
g.push(T(739,1435,'bin #4',{size:42}));
g.push(T(2893,1273,'{r|log\u2081\u2080(}{i|\u2130}{r|\u2009/}{i|eV}{r|)}',{font:'"Liberation Serif"',size:56,color:GREY,
   rich:{r:{fontFamily:'"Liberation Serif"',fontSize:56,fill:GREY,color:GREY},i:{fontFamily:'"Liberation Serif"',fontStyle:'italic',fontSize:56,color:GREY}}}));
// boxes
[[1124,281.5,'#00ffff','|B|= 10nT',1250],[2089,281,'#ff00ff','|B|= 25nT',2215]].forEach(b=>{
  g.push({type:'rect',z:50,silent:true,shape:{x:b[0],y:1425,width:b[1],height:88.5},style:{fill:'#fff',stroke:b[2],lineWidth:16}});
  g.push(T(b[4],1470,b[3],{size:44}));
});
const WH={size:50,color:'#fff'};
g.push(T(1528,1520,'Trapped',{size:52,color:'#fff'}),T(1222,1769,'Passing -',WH),T(1845,1769,'Passing +',WH),T(2204,1769,'Passing -',WH),T(2829,1769,'Passing +',WH));

const chart=echarts.init(document.getElementById('c'),null,{renderer:'canvas'});
chart.setOption({animation:false,backgroundColor:'#fff',grid:grids,xAxis,yAxis,series,graphic:{elements:g},tooltip:{show:false}});
</script></body></html>
